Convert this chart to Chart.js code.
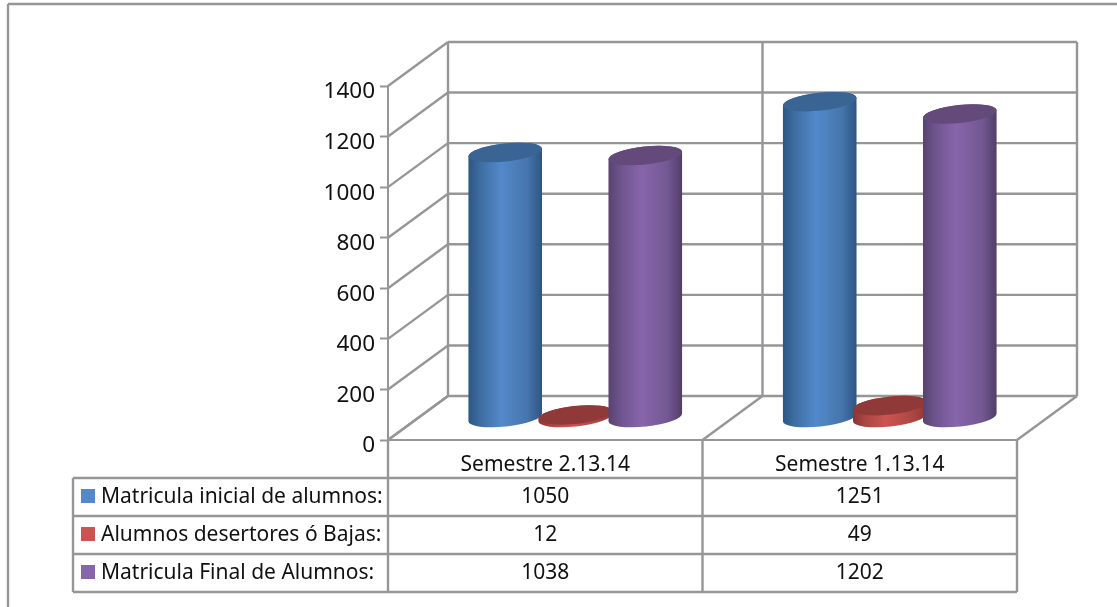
<!DOCTYPE html>
<html>
<head>
<meta charset="utf-8">
<style>
  body { margin: 0; background: #fff; }
  canvas { display: block; }
</style>
<script src="https://cdn.jsdelivr.net/npm/chart.js@4/dist/chart.umd.min.js"></script>
</head>
<body>
<canvas id="graph" width="1117" height="607"></canvas>
<script>
const categories = ["Semestre 2.13.14", "Semestre 1.13.14"];
const seriesNames = ["Matricula inicial de alumnos:", "Alumnos desertores ó Bajas:", "Matricula Final de Alumnos:"];
const matriculaInicial = [1050, 1251];
const desertores = [12, 49];
const matriculaFinal = [1038, 1202];

const lineColor = '#969696';
const fontName = '"Noto Sans", sans-serif';
const depthX = 60, depthY = 44;          // profondeur de la boite 3D

// couleurs des cylindres : bord, milieu, centre, milieu, bord, dessus
const shades = [
    ['#2c5684', '#3f6fa3', '#5389cb', '#4575ab', '#2d5583', '#3a6493'],
    ['#8a3533', '#ad4744', '#cc5450', '#ad4744', '#8d3735', '#8f3a38'],
    ['#584270', '#6f5590', '#8765ab', '#735892', '#513d69', '#634a7b']
];

function cylinder(ctx, el, colors) {
    const a = el.width / 2, b = 9, rot = -6.2 * Math.PI / 180;
    const grad = ctx.createLinearGradient(el.x - a, 0, el.x + a, 0);
    [0, 0.18, 0.45, 0.8, 1].forEach((stop, i) => grad.addColorStop(stop, colors[i]));
    ctx.beginPath();
    ctx.ellipse(el.x, el.base, a, b, rot, 0, Math.PI);
    ctx.ellipse(el.x, el.y, a, b, rot, Math.PI, 2 * Math.PI);
    ctx.closePath();
    ctx.fillStyle = grad;
    ctx.fill();
    ctx.beginPath();
    ctx.ellipse(el.x, el.y, a, b, rot, 0, 2 * Math.PI);
    ctx.fillStyle = colors[5];
    ctx.fill();
}

function line(ctx, x1, y1, x2, y2) {
    ctx.beginPath();
    ctx.moveTo(x1, y1);
    ctx.lineTo(x2, y2);
    ctx.stroke();
}

// descend un peu les libelles de l'axe
function shiftLabels(scale, dy) {
    const drawLabels = scale.drawLabels;
    scale.drawLabels = function (area) {
        this.ctx.save();
        this.ctx.translate(0, dy);
        drawLabels.call(this, area);
        this.ctx.restore();
    };
}

const box3d = {
    id: 'box3d',
    beforeDatasetsDraw(chart) {
        const { ctx, chartArea: area, scales } = chart;
        const catWidth = (area.right - area.left) / categories.length;
        ctx.save();
        ctx.strokeStyle = lineColor;
        ctx.lineWidth = 2.4;
        // murs : lignes de grille
        scales.y.ticks.forEach(t => {
            const y = scales.y.getPixelForValue(t.value);
            line(ctx, area.left, y, area.left + depthX, y - depthY);
            line(ctx, area.left + depthX, y - depthY, area.right + depthX, y - depthY);
        });
        // separations verticales et sol
        for (let i = 0; i <= categories.length; i++) {
            const x = area.left + i * catWidth;
            line(ctx, x + depthX, area.top - depthY, x + depthX, area.bottom - depthY);
            line(ctx, x, area.bottom, x + depthX, area.bottom - depthY);
        }
        ctx.restore();

        // les cylindres sont au milieu de la profondeur
        ctx.save();
        ctx.translate(depthX / 2, -depthY / 2);
        chart.data.datasets.forEach((ds, i) => {
            chart.getDatasetMeta(i).data.forEach(el => cylinder(ctx, el, shades[i]));
        });
        ctx.restore();
        return false;
    },
    afterDraw(chart) {
        const { ctx, chartArea: area, scales } = chart;
        const tableLeft = 73, rowH = 38, firstRow = area.bottom + rowH;
        const rows = [matriculaInicial, desertores, matriculaFinal];
        const bottom = firstRow + rows.length * rowH;
        ctx.save();
        ctx.strokeStyle = lineColor;
        ctx.lineWidth = 2.4;
        // cadre exterieur
        line(ctx, 8, 4, chart.width, 4);
        line(ctx, 8, 4, 8, chart.height);
        // table de donnees
        for (let r = 0; r <= rows.length; r++) {
            line(ctx, tableLeft, firstRow + r * rowH, area.right, firstRow + r * rowH);
        }
        line(ctx, tableLeft, firstRow, tableLeft, bottom);
        const catWidth = (area.right - area.left) / categories.length;
        for (let i = 0; i <= categories.length; i++) {
            line(ctx, area.left + i * catWidth, area.bottom, area.left + i * catWidth, bottom);
        }
        ctx.font = '21px ' + fontName;
        ctx.textBaseline = 'middle';
        rows.forEach((vals, r) => {
            const y = firstRow + r * rowH + rowH / 2;
            ctx.fillStyle = shades[r][2];
            ctx.fillRect(81, y - 8, 14, 14);
            ctx.fillStyle = '#111';
            ctx.textAlign = 'left';
            ctx.fillText(seriesNames[r], 101, y);
            ctx.textAlign = 'center';
            vals.forEach((v, i) => ctx.fillText(v, scales.x.getPixelForTick(i), y));
        });
        ctx.restore();
    }
};

new Chart(document.getElementById('graph').getContext('2d'), {
    type: 'bar',
    data: {
        labels: categories,
        datasets: [
            { label: seriesNames[0], data: matriculaInicial, backgroundColor: shades[0][2] },
            { label: seriesNames[1], data: desertores, backgroundColor: shades[1][2] },
            { label: seriesNames[2], data: matriculaFinal, backgroundColor: shades[2][2] }
        ]
    },
    options: {
        responsive: false,
        animation: false,
        layout: { padding: { top: 86, right: 100 } },
        categoryPercentage: 0.668,
        barPercentage: 1.057,
        plugins: { legend: { display: false }, tooltip: { enabled: false } },
        scales: {
            x: {
                afterFit(scale) { scale.height = 167; },
                grid: { drawOnChartArea: false, drawTicks: false },
                border: { color: lineColor, width: 2 },
                ticks: { padding: 12, color: '#111', font: { family: fontName, size: 21 } }
            },
            y: {
                min: 0,
                max: 1400,
                afterFit(scale) { scale.width = 388; },
                afterUpdate(scale) { shiftLabels(scale, 3); },
                grid: { drawOnChartArea: false, tickLength: 8, tickWidth: 2, tickColor: lineColor },
                border: { color: lineColor, width: 2 },
                ticks: {
                    stepSize: 200,
                    padding: 5,
                    color: '#111',
                    font: { family: fontName, size: 22.5 },
                    callback: v => String(v)
                }
            }
        }
    },
    plugins: [box3d]
});
</script>
</body>
</html>
